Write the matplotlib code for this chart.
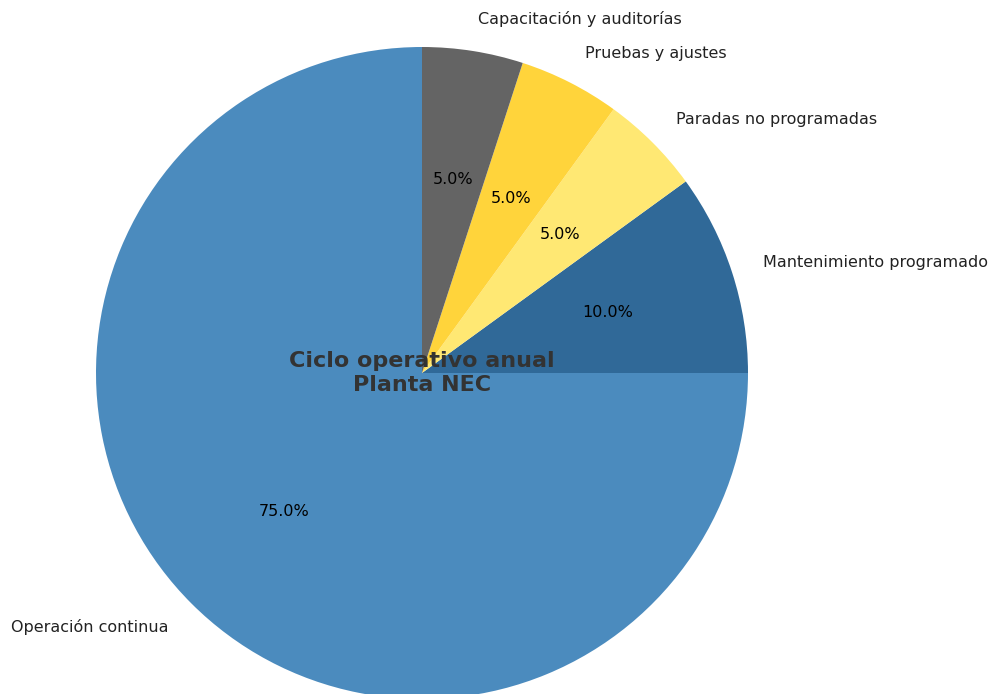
import matplotlib.pyplot as plt

# Datos del ciclo operativo
labels = ['Mantenimiento programado', 'Paradas no programadas', 'Pruebas y ajustes',
          'Capacitación y auditorías', 'Operación continua']
values = [10, 5, 5, 5, 75]
colors = ['#306998', '#FFE873', '#FFD43B', '#646464', '#4B8BBE']

fig = plt.figure(figsize=(9.89, 6.94), dpi=100)
ax = fig.add_axes([0, 0, 1, 1])

wedges, texts, autotexts = ax.pie(values, labels=labels, colors=colors,
                                  autopct='%1.1f%%', startangle=0,
                                  textprops={'fontsize': 11.5, 'color': '#222222'})
for t in autotexts:
    t.set_color('black')

ax.text(0, 0, 'Ciclo operativo anual\nPlanta NEC', ha='center', va='center',
        fontsize=16, fontweight='bold', color='#333333', linespacing=1.2)

# radio del pie ~326 px, centro en (422, 373)
r = 326.0
ax.set_aspect('auto')
ax.set_xlim(-422 / r, (989 - 422) / r)
ax.set_ylim(-(694 - 373) / r, 373 / r)
ax.axis('off')

fig.savefig('out.png', dpi=100)
